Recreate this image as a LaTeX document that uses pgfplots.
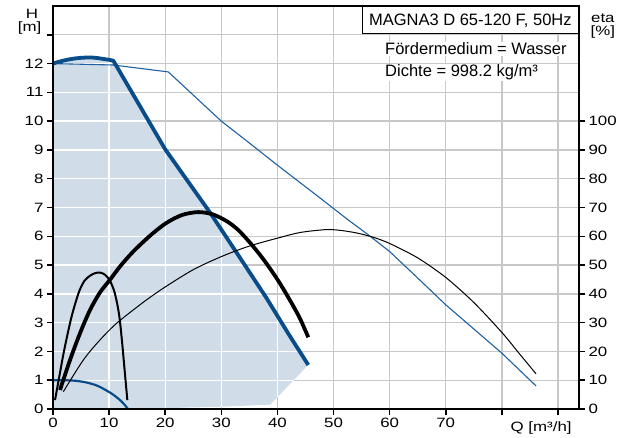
\documentclass[border=0pt]{standalone}
\usepackage{fontspec}
\setmainfont{Liberation Sans}
\newfontfamily\lblfont[FakeStretch=1.25]{Liberation Sans}
\usepackage{pgfplots}
\pgfplotsset{compat=1.18}
\definecolor{fillc}{RGB}{208,220,232}
\definecolor{gridc}{RGB}{200,200,200}
\definecolor{pblue}{RGB}{8,76,138}
\definecolor{tblue}{RGB}{30,96,162}
\newcommand\lbl{\lblfont\fontsize{13.5}{15}\selectfont}
\pgfplotsset{
  layers/gridbelow/.define layer set={
    axis background,axis grid,main,axis ticks,axis lines,axis tick labels,
    axis descriptions,axis foreground
  }{/pgfplots/layers/standard},
  common/.style={
    set layers=gridbelow,
    at={(53pt,28pt)}, anchor=south west,
    scale only axis, width=526pt, height=403pt,
    xmin=0, xmax=93.75,
    tick align=outside, major tick length=6pt,
    tick style={black, line width=1.5pt},
    axis line style={black, line width=1.6pt},
    tick label style={font=\lbl},
    /pgf/number format/assume math mode=true,
    clip=false,
  },
}
\begin{document}
\begin{tikzpicture}
\begin{axis}[
  common,
  ymin=0, ymax=14,
  xtick={0,10,...,90}, xticklabels={0,10,20,30,40,50,60,70,{},{}},
  ytick={0,1,...,13}, yticklabels={0,1,2,3,4,5,6,7,8,9,10,11,12,{}},
  xtick pos=left, ytick pos=left,
  grid=major, grid style={gridc, line width=1.3pt},
]
% operating range
\addplot[fill=fillc, draw=none] coordinates {
  (0,0) (0,12.00) (1,12.06) (2,12.11) (3,12.15) (4,12.18) (5,12.20) (6,12.21)
  (7,12.21) (8,12.19) (9,12.16) (10,12.13) (10.75,12.10) (15.5,10.52) (20,9.02)
  (24,7.92) (28,6.82) (33,5.35) (38,3.87) (42,2.6) (45.5,1.53)
  (38.7,0.15) (30,0.08) (20,0.03) (13.3,0)
};
% grid lines inside the range are white
\addplot[white, line width=1.3pt, unbounded coords=jump] coordinates {
  (10,0) (10,12.13) (0,nan) (20,0) (20,9.02) (0,nan) (30,0.08) (30,6.23) (0,nan)
  (40,0.41) (40,3.24) (0,nan)
  (0,1) (42.89,1) (0,nan) (0,2) (43.93,2) (0,nan) (0,3) (40.78,3) (0,nan)
  (0,4) (37.56,4) (0,nan) (0,5) (34.19,5) (0,nan) (0,6) (30.81,6) (0,nan)
  (0,7) (27.35,7) (0,nan) (0,8) (23.71,8) (0,nan) (0,9) (20.06,9) (0,nan)
  (0,10) (17.18,10) (0,nan) (0,11) (14.12,11) (0,nan) (0,12) (11.06,12)
};
% thin blue: max curve at full speed
\addplot[tblue, line width=1.1pt] coordinates {
  (0,12.0) (10.75,11.95) (20.55,11.71) (30,10.0) (35,9.24) (40,8.47)
  (47.6,7.33) (52.6,6.57) (56.2,6.05) (60,5.47) (65,4.55) (70,3.62) (75,2.78)
  (80,1.94) (86.1,0.8)
};
% min curve
\addplot[pblue, line width=2.2pt, smooth] coordinates {
  (0,1.0) (2,1.0) (4,0.98) (6,0.92) (8,0.8) (10,0.59) (11,0.46) (12,0.3)
  (12.7,0.16) (13.3,0.02)
};
% thick blue: max curve
\addplot[pblue, line width=3.8pt, line join=round] coordinates {
  (0,12.00) (1,12.06) (2,12.11) (3,12.15) (4,12.18) (5,12.20) (6,12.21)
  (7,12.21) (8,12.19) (9,12.16) (10,12.13) (10.75,12.10) (15.5,10.52) (20,9.02)
  (24,7.92) (28,6.82) (33,5.35) (38,3.87) (42,2.6) (45.5,1.53)
};
% texts
\node[draw=black, line width=1pt, fill=white, anchor=north east, minimum width=216.3pt,
  minimum height=26.6pt, inner sep=0pt, text height=11.8pt, text depth=0pt,
  font=\fontsize{16.5}{18}\selectfont] at (axis cs:93.75,14) {MAGNA3 D 65-120 F, 50Hz};
\node[anchor=base west, fill=white, inner sep=1pt, font=\fontsize{16.5}{18}\selectfont]
  at (axis cs:59.0,12.30) {Fördermedium = Wasser};
\node[anchor=base west, fill=white, inner sep=1pt, font=\fontsize{16.5}{18}\selectfont]
  at (axis cs:59.0,11.55) {Dichte = 998.2 kg/m³};
\node[anchor=base, inner sep=0pt, font=\lbl] at (axis cs:-3.74,13.55) {H};
\node[anchor=base, inner sep=0pt, font=\lbl] at (axis cs:-4.15,13.13) {[m]};
\node[anchor=base, inner sep=0pt, font=\lbl] at (axis cs:98.0,13.43) {eta};
\node[anchor=base, inner sep=0pt, font=\lbl] at (axis cs:98.0,12.97) {[\%]};
\node[anchor=base, font=\lbl, yshift=-22.7pt] at (axis cs:87,0) {Q [m³/h]};
\end{axis}
\begin{axis}[
  common,
  ymin=0, ymax=140,
  axis x line=none, axis y line*=right,
  ytick={0,10,...,100},
]
% efficiency curves (eta in %)
\addplot[black, line width=1pt, smooth] coordinates {
  (1.84,6.0) (5.4,17.0) (8.38,24.0) (11.35,29.8) (15.5,36.2) (17.3,38.8) (20.08,42.5)
  (25,48.4) (30.07,53.0) (35,56.6) (40.1,59.4) (44,61.3) (48.5,62.3) (51,62.1)
  (54,61.2) (57,59.7) (60,57.5) (65,52.5) (70,45.7) (75,37.0) (80,26.6) (83,19.5)
  (86.1,12.2)
};
\addplot[black, line width=2pt, smooth] coordinates {
  (0.36,3.1) (1.1,11.0) (2.0,20.5) (3.3,32.0) (4.6,40.5) (5.6,44.5) (6.6,46.3)
  (7.5,47.2) (8.38,47.4) (9.3,46.6) (10.16,44.5) (10.9,41.0) (11.5,36.0) (11.9,31.0)
  (12.3,23.5) (12.65,16.0) (12.95,9.5) (13.25,3.1)
};
\addplot[black, line width=3.8pt, smooth] coordinates {
  (1.25,6.6) (3.03,17.0) (4.81,26.3) (6.6,34.4) (8.38,40.5) (10.16,44.9) (11.94,49.5)
  (14.3,54.7) (17.3,60.2) (20.1,64.5) (23,67.4) (25.9,68.4) (28.5,67.6) (31,65.2)
  (33,62.2) (35.1,57.8) (37.5,52.0) (40,45.0) (42.2,37.9) (44,31.5) (45.5,24.9)
};
\end{axis}
\path (0,0) rectangle (629pt,437pt);
\end{tikzpicture}
\end{document}
